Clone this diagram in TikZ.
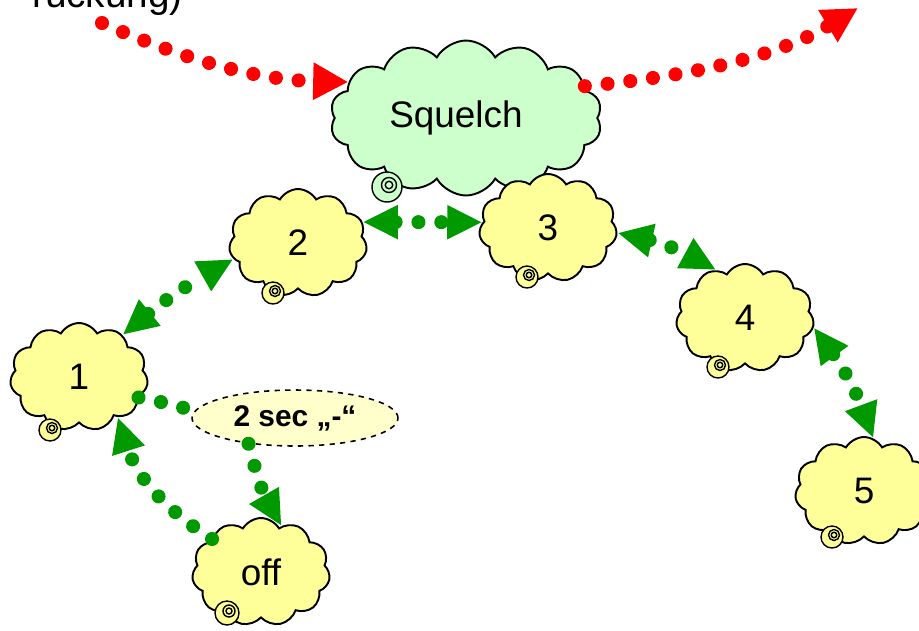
\documentclass[tikz,border=0pt]{standalone}
\usepackage{fontspec}
\setmainfont{Liberation Sans}
\usetikzlibrary{shapes.symbols,shapes.geometric,arrows.meta}
\definecolor{cloudy}{HTML}{FFFF99}
\definecolor{cloudg}{HTML}{CCFFCC}
\definecolor{grn}{HTML}{009900}
\definecolor{ellf}{HTML}{FFFFCC}
\definecolor{redd}{HTML}{FF0000}
\tikzset{
  cloudnode/.style={cloud, cloud puffs=11, cloud puff arc=120, cloud ignores aspect,
    draw=black, line width=1.1pt, fill=cloudy, inner sep=0pt,
    minimum width=2.76cm, minimum height=2.16cm,
    font=\fontsize{21}{25}\selectfont},
  bigcloud/.style={cloudnode, fill=cloudg, cloud puffs=14,
    minimum width=5.44cm, minimum height=3.1cm},
  ellnode/.style={ellipse, draw=black, dashed, line width=0.9pt, fill=ellf,
    minimum width=4.12cm, minimum height=1.12cm, inner sep=0pt,
    font=\bfseries\fontsize{17}{20}\selectfont},
  dotline/.style={line width=8pt, line cap=round, dash pattern=on 0.01pt off 13pt},
  grdot/.style={dotline, draw=grn},
  rddot/.style={dotline, draw=redd},
  gtip/.tip={Triangle[length=20pt,width=18pt]},
  rtip/.tip={Triangle[length=20pt,width=20pt]},
  spiro/.style={draw=black, line width=0.8pt},
}
\newcommand{\myspiral}[4]{%
  \filldraw[spiro, fill=#3] (#1,#2) circle[radius=#4];
  \draw[spiro] (#1+2,#2-2) circle[radius=#4*0.5];
  \draw[spiro] (#1+2,#2-2) circle[radius=#4*0.25];
}
\begin{document}
\begin{tikzpicture}[x=0.02cm,y=-0.02cm]
\useasboundingbox (0,0) rectangle (919,630);

% top clipped text
\node[anchor=base east, inner sep=0pt, font=\fontsize{22}{26}\selectfont] (toptext) at (183,7) {rückung)};

% clouds
\node[bigcloud] (sq) at (466,118) {Squelch\hspace*{0.4cm}};
\node[cloudnode] (n2) at (298,243) {2};
\node[cloudnode] (n3) at (548,228) {3};
\node[cloudnode] (n4) at (745,318) {4};
\node[cloudnode] (n5) at (864,491) {5};
\node[cloudnode] (n1) at (79,377) {1};
\node[cloudnode] (off) at (261,572) {off};
\node[ellnode] (ell) at (295,418) {2 sec „-“};

% spirals
\myspiral{387}{187}{cloudg}{0.3cm}
\myspiral{273}{293}{cloudy}{0.22cm}
\myspiral{527}{277}{cloudy}{0.22cm}
\myspiral{718}{367}{cloudy}{0.22cm}
\myspiral{832}{537}{cloudy}{0.22cm}
\myspiral{50}{430}{cloudy}{0.22cm}
\myspiral{227}{613}{cloudy}{0.24cm}

% red arrows
\coordinate (rin) at (102,23);
\coordinate (rout) at (858,8);
\draw[rddot, -rtip] (rin) .. controls (190,62) and (260,80) .. (sq.163);
\draw[rddot, -rtip] (sq.15) .. controls (700,75) and (780,55) .. (rout);

% green arrows
\draw[grdot, gtip-gtip] (n1.44) to[bend left=5] (n2.194);
\draw[grdot, gtip-gtip] (n2.18) -- (n3.175);
\draw[grdot, gtip-gtip] (n3.-4) to[bend left=8] (n4.121);
\draw[grdot, gtip-gtip] (n4.-8) to[bend left=8] (n5.80);
\draw[grdot, -gtip] (off.146) to[bend left=20] (n1.-46);
\draw[grdot] (n1.-19) to[bend left=3] (ell.176);
\draw[grdot, -gtip] (ell.209) to[bend right=8] (off.66);
\end{tikzpicture}
\end{document}
